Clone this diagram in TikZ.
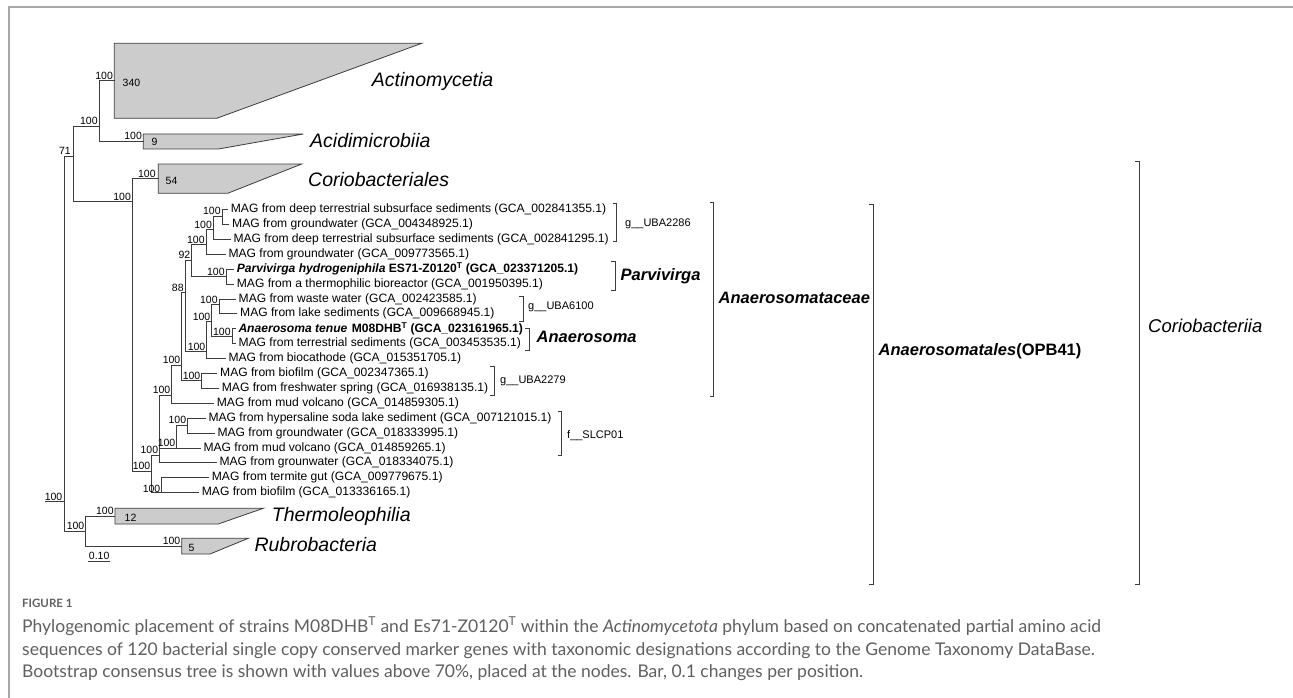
\documentclass[tikz,border=0pt]{standalone}
\usepackage{fontspec}
\usetikzlibrary{calc}
\setmainfont{Liberation Sans}
\newfontfamily\capfont{Lato}
\definecolor{treeclr}{HTML}{3C3C3C}
\definecolor{cladefill}{HTML}{CCCCCC}
\definecolor{framec}{HTML}{A8A8A8}
\definecolor{capc}{HTML}{606060}
\tikzset{
  br/.style={draw=treeclr, line width=0.8pt, line cap=rect},
  bs/.style={font=\fontsize{10.5}{12}\selectfont, inner sep=0pt, anchor=base east},
  leaf/.style={font=\fontsize{12.1}{14}\selectfont, inner sep=0pt, anchor=west},
  clade/.style={draw=treeclr, fill=cladefill, line width=0.8pt},
  cladelbl/.style={font=\fontsize{19.5}{22}\selectfont\itshape, inner sep=0pt, anchor=west},
  cnt/.style={font=\fontsize{10.5}{12}\selectfont, inner sep=0pt, anchor=west},
  brk/.style={draw=treeclr, line width=0.8pt},
  grp/.style={font=\fontsize{11}{13}\selectfont, inner sep=0pt, anchor=west},
  big/.style={font=\fontsize{16.5}{19}\selectfont\bfseries\itshape, inner sep=0pt, anchor=west},
  capline/.style={font=\capfont\fontsize{17.5}{20}\selectfont, text=capc, inner sep=0pt, anchor=base west},
}
\begin{document}
\begin{tikzpicture}[x=1pt,y=-1pt]
\useasboundingbox (0,0) rectangle (1293,698);
\fill[white] (0,0) rectangle (1293,698);
\draw[framec, line width=1.5pt] (9,698) -- (9,7) -- (1293,7);

% ---------- collapsed clades ----------
\draw[clade] (114.3,43.3) -- (421.7,43.3) -- (216.7,118.3) -- (114.3,118.3) -- cycle;
\coordinate (cAct) at (114.3,80.8);
\draw[clade] (143.3,134) -- (303.3,134) -- (218.3,149) -- (143.3,149) -- cycle;
\coordinate (cAci) at (143.3,141.5);
\draw[clade] (158.3,164) -- (301.7,164) -- (227.7,193.3) -- (158.3,193.3) -- cycle;
\coordinate (cCor) at (158.3,178.7);
\draw[clade] (115,508.3) -- (263.3,508.3) -- (218.3,524) -- (115,524) -- cycle;
\coordinate (cThe) at (115,516.2);
\draw[clade] (181.7,538.3) -- (248.3,538.3) -- (210,554) -- (181.7,554) -- cycle;
\coordinate (cRub) at (181.7,546.2);

\node[cnt] (k1) at (122.5,83) {340};
\node[cnt] (k2) at (151.5,142) {9};
\node[cnt] (k3) at (165.5,181) {54};
\node[cnt] (k4) at (124.5,518) {12};
\node[cnt] (k5) at (188.5,548) {5};

\node[cladelbl] (t1) at (371.7,81.7) {Actinomycetia};
\node[cladelbl] (t2) at (310,141) {Acidimicrobiia};
\node[cladelbl] (t3) at (308,180) {Coriobacteriales};
\node[cladelbl] (t4) at (271.7,516) {Thermoleophilia};
\node[cladelbl] (t5) at (254.3,545) {Rubrobacteria};

% ---------- leaves ----------
\node[leaf] (l1) at (230.7,209.5) {MAG from deep terrestrial subsurface sediments (GCA\_002841355.1)};
\node[leaf] (l2) at (232,224.4) {MAG from groundwater (GCA\_004348925.1)};
\node[leaf] (l3) at (233.3,239.3) {MAG from deep terrestrial subsurface sediments (GCA\_002841295.1)};
\node[leaf] (l4) at (228.3,254.2) {MAG from groundwater (GCA\_009773565.1)};
\node[leaf] (l5) at (236.7,269.1) {\bfseries\textit{Parvivirga hydrogeniphila} ES71-Z0120\textsuperscript{T} (GCA\_023371205.1)};
\node[leaf] (l6) at (236.7,284) {MAG from a thermophilic bioreactor (GCA\_001950395.1)};
\node[leaf] (l7) at (238.5,298.9) {MAG from waste water (GCA\_002423585.1)};
\node[leaf] (l8) at (240,313.8) {MAG from lake sediments (GCA\_009668945.1)};
\node[leaf] (l9) at (238.3,328.7) {\bfseries\textit{Anaerosoma tenue}\hspace{1pt} M08DHB\textsuperscript{T} (GCA\_023161965.1)};
\node[leaf] (l10) at (238.3,343.6) {MAG from terrestrial sediments (GCA\_003453535.1)};
\node[leaf] (l11) at (228.3,358.5) {MAG from biocathode (GCA\_015351705.1)};
\node[leaf] (l12) at (220,373.4) {MAG from biofilm (GCA\_002347365.1)};
\node[leaf] (l13) at (221.7,388.3) {MAG from freshwater spring (GCA\_016938135.1)};
\node[leaf] (l14) at (216.7,403.2) {MAG from mud volcano (GCA\_014859305.1)};
\node[leaf] (l15) at (208.3,418.1) {MAG from hypersaline soda lake sediment (GCA\_007121015.1)};
\node[leaf] (l16) at (217.3,433) {MAG from groundwater (GCA\_018333995.1)};
\node[leaf] (l17) at (203.3,447.9) {MAG from mud volcano (GCA\_014859265.1)};
\node[leaf] (l18) at (219.3,462.8) {MAG from grounwater (GCA\_018334075.1)};
\node[leaf] (l19) at (211.7,477.7) {MAG from termite gut (GCA\_009779675.1)};
\node[leaf] (l20) at (201.7,492.6) {MAG from biofilm (GCA\_013336165.1)};

% ---------- internal nodes (x, incoming y) ----------
\coordinate (stub) at (45,501.7);
\coordinate (nRoot) at (64,501.7);
\coordinate (n73) at (73,156);
\coordinate (n99) at (99,126);
\coordinate (nV) at (85.7,531);
\coordinate (nCor) at (132.3,201.7);
\coordinate (nS) at (151.7,471);
\coordinate (nT) at (159.5,455);
\coordinate (nR) at (161.7,492.6);
\coordinate (nN) at (171.7,395);
\coordinate (nP) at (176.7,447.9);
\coordinate (nO) at (187.5,425);
\coordinate (nM) at (181.7,365);
\coordinate (nL) at (201.7,380.5);
\coordinate (nF) at (185,292.5);
\coordinate (nE) at (191.7,260);
\coordinate (nC) at (206,244.5);
\coordinate (nB) at (213.3,229.5);
\coordinate (nA) at (222,216);
\coordinate (nD) at (226,276.5);
\coordinate (nJp) at (206.7,351.5);
\coordinate (nJ) at (211.7,321.5);
\coordinate (nI) at (219,304.5);
\coordinate (nH) at (232,336.5);

% root
\draw[br] (stub) -- (nRoot);
\draw[br] (nRoot |- n73) -- (nRoot |- nV);
\draw[br] (nRoot |- n73) -- (n73);
\draw[br] (nRoot |- nV) -- (nV);
% upper part
\draw[br] (n73 |- n99) -- (n73 |- nCor);
\draw[br] (n73 |- n99) -- (n99);
\draw[br] (n73 |- nCor) -- (nCor);
\draw[br] (n99 |- cAct) -- (n99 |- cAci);
\draw[br] (n99 |- cAct) -- (cAct);
\draw[br] (n99 |- cAci) -- (cAci);
% Thermoleophilia / Rubrobacteria
\draw[br] (nV |- cThe) -- (nV |- cRub);
\draw[br] (nV |- cThe) -- (cThe);
\draw[br] (nV |- cRub) -- (cRub);
% Coriobacteriia
\draw[br] (nCor |- cCor) -- (nCor |- nS);
\draw[br] (nCor |- cCor) -- (cCor);
\draw[br] (nCor |- nS) -- (nS);
% S
\draw[br] (nS |- nT) -- (nS |- nR);
\draw[br] (nS |- nT) -- (nT);
\draw[br] (nS |- nR) -- (nR);
% R
\draw[br] (nR |- l19.west) -- (nR |- l20.west);
\draw[br] (nR |- l19.west) -- ([xshift=-3pt]l19.west);
\draw[br] (nR |- l20.west) -- ([xshift=-3pt]l20.west);
% T
\draw[br] (nT |- nN) -- (nT |- l18.west);
\draw[br] (nT |- nN) -- (nN);
\draw[br] (nT |- nP) -- (nP);
\draw[br] (nT |- l18.west) -- ([xshift=-3pt]l18.west);
% P and O
\draw[br] (nP |- nO) -- (nP |- l17.west);
\draw[br] (nP |- nO) -- (nO);
\draw[br] (nP |- l17.west) -- ([xshift=-3pt]l17.west);
\draw[br] (nO |- l15.west) -- (nO |- l16.west);
\draw[br] (nO |- l15.west) -- ([xshift=-3pt]l15.west);
\draw[br] (nO |- l16.west) -- ([xshift=-3pt]l16.west);
% N
\draw[br] (nN |- nM) -- (nN |- l14.west);
\draw[br] (nN |- nM) -- (nM);
\draw[br] (nN |- l14.west) -- ([xshift=-3pt]l14.west);
% M
\draw[br] (nM |- nF) -- (nM |- nL);
\draw[br] (nM |- nF) -- (nF);
\draw[br] (nM |- nL) -- (nL);
% L
\draw[br] (nL |- l12.west) -- (nL |- l13.west);
\draw[br] (nL |- l12.west) -- ([xshift=-3pt]l12.west);
\draw[br] (nL |- l13.west) -- ([xshift=-3pt]l13.west);
% F
\draw[br] (nF |- nE) -- (nF |- nJp);
\draw[br] (nF |- nE) -- (nE);
\draw[br] (nF |- nJp) -- (nJp);
% E
\draw[br] (nE |- nC) -- (nE |- nD);
\draw[br] (nE |- nC) -- (nC);
\draw[br] (nE |- nD) -- (nD);
% C
\draw[br] (nC |- nB) -- (nC |- l4.west);
\draw[br] (nC |- nB) -- (nB);
\draw[br] (nC |- l4.west) -- ([xshift=-3pt]l4.west);
% B
\draw[br] (nB |- nA) -- (nB |- l3.west);
\draw[br] (nB |- nA) -- (nA);
\draw[br] (nB |- l3.west) -- ([xshift=-3pt]l3.west);
% A
\draw[br] (nA |- l1.west) -- (nA |- l2.west);
\draw[br] (nA |- l1.west) -- ([xshift=-3pt]l1.west);
\draw[br] (nA |- l2.west) -- ([xshift=-3pt]l2.west);
% D
\draw[br] (nD |- l5.west) -- (nD |- l6.west);
\draw[br] (nD |- l5.west) -- ([xshift=-3pt]l5.west);
\draw[br] (nD |- l6.west) -- ([xshift=-3pt]l6.west);
% J'
\draw[br] (nJp |- nJ) -- (nJp |- l11.west);
\draw[br] (nJp |- nJ) -- (nJ);
\draw[br] (nJp |- l11.west) -- ([xshift=-3pt]l11.west);
% J
\draw[br] (nJ |- nI) -- (nJ |- nH);
\draw[br] (nJ |- nI) -- (nI);
\draw[br] (nJ |- nH) -- (nH);
% I
\draw[br] (nI |- l7.west) -- (nI |- l8.west);
\draw[br] (nI |- l7.west) -- ([xshift=-3pt]l7.west);
\draw[br] (nI |- l8.west) -- ([xshift=-3pt]l8.west);
% H
\draw[br] (nH |- l9.west) -- (nH |- l10.west);
\draw[br] (nH |- l9.west) -- ([xshift=-3pt]l9.west);
\draw[br] (nH |- l10.west) -- ([xshift=-3pt]l10.west);

% ---------- bootstrap values ----------
\node[bs] (b00) at ([shift={(-1.5,-1.5)}]nRoot) {100};
\node[bs] (b01) at ([shift={(-2,-1.5)}]n73) {71};
\node[bs] (b02) at ([shift={(-1.2,-1.5)}]n99) {100};
\node[bs] (b03) at ([shift={(-1.2,-1.5)}]cAct) {100};
\node[bs] (b04) at ([shift={(-1.2,-1.5)}]cAci) {100};
\node[bs] (b05) at ([shift={(-1.2,-1.5)}]nCor) {100};
\node[bs] (b06) at ([shift={(-2.5,-1.5)}]cCor) {100};
\node[bs] (b07) at ([shift={(-1.2,-1.5)}]nV) {100};
\node[bs] (b08) at ([shift={(-1.2,-1.5)}]cThe) {100};
\node[bs] (b09) at ([shift={(-1.2,-1.5)}]cRub) {100};
\node[bs] (b10) at ([shift={(-1.2,-1.5)}]nS) {100};
\node[bs] (b11) at ([shift={(-1.2,-1.5)}]nT) {100};
\node[bs] (b12) at ([shift={(-1.2,-0.5)}]nR) {100};
\node[bs] (b13) at ([shift={(-1.2,-1.5)}]nN) {100};
\node[bs] (b14) at ([shift={(-1.2,-1.5)}]nP) {100};
\node[bs] (b15) at ([shift={(-1.2,-1.5)}]nO) {100};
\node[bs] (b16) at ([shift={(-1.2,-1.5)}]nM) {100};
\node[bs] (b17) at ([shift={(-1.2,-1.5)}]nL) {100};
\node[bs] (b18) at ([shift={(-1.2,-1.5)}]nF) {88};
\node[bs] (b19) at ([shift={(-1.2,-1.5)}]nE) {92};
\node[bs] (b20) at ([shift={(-1.2,-1.5)}]nC) {100};
\node[bs] (b21) at ([shift={(-1.2,-1.5)}]nB) {100};
\node[bs] (b22) at ([shift={(-1.2,-1.5)}]nA) {100};
\node[bs] (b23) at ([shift={(-1.2,-1.5)}]nD) {100};
\node[bs] (b24) at ([shift={(-1.2,-1.5)}]nJp) {100};
\node[bs] (b25) at ([shift={(-1.2,-1.5)}]nJ) {100};
\node[bs] (b26) at ([shift={(-1.2,-1.5)}]nI) {100};
\node[bs] (b27) at ([shift={(-1.2,-1.5)}]nH) {100};

% scale bar
\coordinate (sb1) at (88.3,561);
\coordinate (sb2) at (110,561);
\draw[br] (sb1) -- (sb2);
\node[font=\fontsize{10.5}{12}\selectfont, inner sep=0pt, anchor=base] (sbl) at ([yshift=1.5pt]$(sb1)!0.5!(sb2)$) {0.10};

% ---------- group brackets ----------
\coordinate (g1t) at (616.7,203);   \coordinate (g1b) at (616.7,241.7);
\coordinate (g2t) at (615,261.7);   \coordinate (g2b) at (615,290.7);
\coordinate (g3t) at (523.3,296.7); \coordinate (g3b) at (523.3,321.7);
\coordinate (g4t) at (529.3,328.3); \coordinate (g4b) at (529.3,350.7);
\coordinate (g5t) at (494.3,366.7); \coordinate (g5b) at (494.3,395);
\coordinate (g6t) at (561.7,411.7); \coordinate (g6b) at (561.7,455);
\coordinate (g7t) at (713.5,202);   \coordinate (g7b) at (713.5,396);
\coordinate (g8t) at (873.3,204);   \coordinate (g8b) at (873.3,584);
\coordinate (g9t) at (1139.3,161);  \coordinate (g9b) at (1139.3,584);
\foreach \g in {g1,g2,g3,g4,g5,g6,g7,g8,g9}
  \draw[brk] ([xshift=-4pt]\g t) -- (\g t) -- (\g b) -- ([xshift=-4pt]\g b);

\node[grp] (q1) at (625,223.3) {g\_\_UBA2286};
\node[big] (q2) at (620.5,276.5) {Parvivirga};
\node[grp] (q3) at (528,307) {g\_\_UBA6100};
\node[big] (q4) at (536.5,337) {Anaerosoma};
\node[grp] (q5) at (500,380.7) {g\_\_UBA2279};
\node[grp] (q6) at (567,436) {f\_\_SLCP01};
\node[big] (q7) at (718.5,298) {Anaerosomataceae};
\node[big] (q8) at (878.5,351.5) {Anaerosomatales\textup{(OPB41)}};
\node[font=\fontsize{18.5}{21}\selectfont\itshape, inner sep=0pt, anchor=west] (q9) at (1148,326) {Coriobacteriia};

% ---------- caption ----------
\node[font=\capfont\bfseries\fontsize{11.5}{14}\selectfont, text=capc, inner sep=0pt, anchor=base west] (fig) at (22,607.5) {FIGURE 1};
\node[capline] (c1) at (22,632) {Phylogenomic placement of strains M08DHB\textsuperscript{T} and Es71-Z0120\textsuperscript{T} within the \textit{Actinomycetota} phylum based on concatenated partial amino acid};
\node[capline] (c2) at (22,655) {sequences of 120 bacterial single copy conserved marker genes with taxonomic designations according to the Genome Taxonomy DataBase.};
\node[capline] (c3) at (22,677.5) {Bootstrap consensus tree is shown with values above 70\%, placed at the nodes. Bar, 0.1 changes per position.};
\end{tikzpicture}
\end{document}
